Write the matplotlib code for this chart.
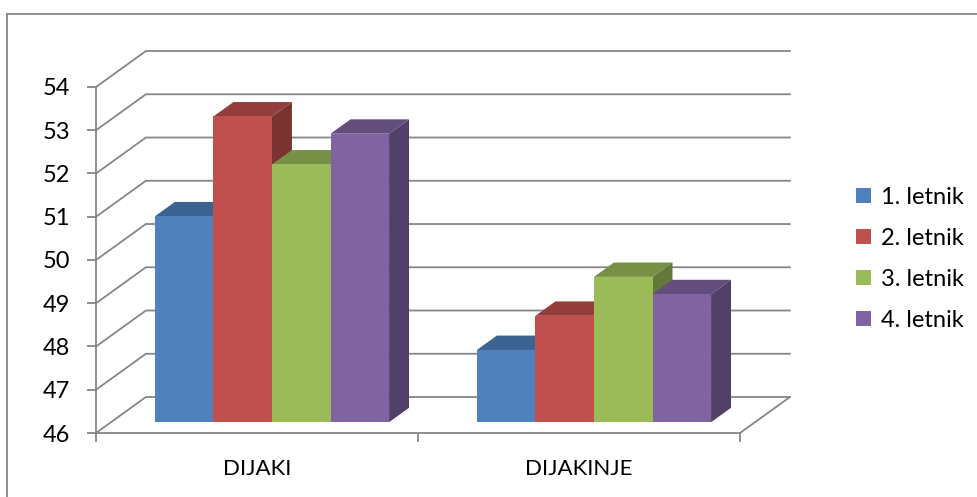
import matplotlib
matplotlib.use("Agg")
import matplotlib.pyplot as plt
from matplotlib.patches import Polygon, Patch
from matplotlib.lines import Line2D

# ---------------- data ----------------
categories = ["DIJAKI", "DIJAKINJE"]
series_names = ["1. letnik", "2. letnik", "3. letnik", "4. letnik"]
letnik_1 = [50.76, 47.67]
letnik_2 = [53.07, 48.46]
letnik_3 = [51.96, 49.36]
letnik_4 = [52.67, 48.96]
y_ticks = [46, 47, 48, 49, 50, 51, 52, 53, 54]

series_values = [letnik_1, letnik_2, letnik_3, letnik_4]

# ---------------- style ----------------
colors = ["#4F81BD", "#C0504D", "#9BBB59", "#8064A2"]
GRID = "#868686"
plt.rcParams["font.family"] = ["Lato", "DejaVu Sans"]
FS = 17

# oblique "3D" offset for full depth, in data units (x = categories, y = values)
DX, DY = 0.155, 0.832
F0, F1 = 0.3, 0.7          # bar depth range
N = len(series_names)
BAR_W = 1.0 / (N + 1.5)     # gap width 150 %
GAP = 0.75 * BAR_W


def shade(hex_color, k):
    r, g, b = matplotlib.colors.to_rgb(hex_color)
    return (r * k, g * k, b * k)


def proj(x, v, f):
    return (x + f * DX, v + f * DY)


fig = plt.figure(figsize=(9.78, 4.97), dpi=100)
ax = fig.add_axes([96 / 978, 64 / 497, 644 / 978, 346 / 497])
ax.set_xlim(0, len(categories))
ax.set_ylim(y_ticks[0], y_ticks[-1])

# outer chart frame (cut off at right and bottom)
fig.add_artist(Line2D([7 / 978, 7 / 978], [-0.1, 1 - 14 / 497], color=GRID, lw=1.3))
fig.add_artist(Line2D([7 / 978, 1.1], [1 - 14 / 497, 1 - 14 / 497], color=GRID, lw=1.3))

# wall gridlines (side wall diagonal + back wall)
xmax = len(categories)
for v in y_ticks:
    ax.plot([0, DX, xmax + DX], [v, v + DY, v + DY], color=GRID, lw=1.3,
            clip_on=False, zorder=1, solid_joinstyle="miter")
# floor right edge
ax.plot([xmax, xmax + DX], [y_ticks[0], y_ticks[0] + DY], color=GRID, lw=1.3,
        clip_on=False, zorder=1)

# bars
z = 2
base = y_ticks[0]
for c in range(len(categories)):
    for i in range(N):
        val = series_values[i][c]
        x0 = c + GAP + i * BAR_W
        x1 = x0 + BAR_W
        front = [proj(x0, base, F0), proj(x1, base, F0), proj(x1, val, F0), proj(x0, val, F0)]
        top = [proj(x0, val, F0), proj(x1, val, F0), proj(x1, val, F1), proj(x0, val, F1)]
        side = [proj(x1, base, F0), proj(x1, base, F1), proj(x1, val, F1), proj(x1, val, F0)]
        ax.add_patch(Polygon(side, closed=True, fc=shade(colors[i], 0.64), lw=0, zorder=z, clip_on=False))
        ax.add_patch(Polygon(top, closed=True, fc=shade(colors[i], 0.77), lw=0, zorder=z, clip_on=False))
        ax.add_patch(Polygon(front, closed=True, fc=colors[i], lw=0, zorder=z + 0.5, clip_on=False))
        z += 1

# axes look
for s in ["top", "right"]:
    ax.spines[s].set_visible(False)
for s in ["left", "bottom"]:
    ax.spines[s].set_color(GRID)
    ax.spines[s].set_linewidth(1.3)
    ax.spines[s].set_zorder(1)
ax.set_facecolor("none")

ax.set_yticks(y_ticks)
ax.set_yticklabels([str(t) for t in y_ticks], fontsize=FS)
ax.tick_params(axis="y", length=6.5, width=1.3, color=GRID, pad=12)

ax.set_xticks(range(len(categories) + 1))
ax.set_xticklabels([""] * (len(categories) + 1))
ax.set_xticks([c + 0.5 for c in range(len(categories))], minor=True)
ax.set_xticklabels(categories, minor=True, fontsize=FS - 1)
ax.tick_params(axis="x", which="major", length=6.5, width=1.3, color=GRID)
ax.tick_params(axis="x", which="minor", length=0, pad=19)

handles = [Patch(facecolor=colors[i], label=series_names[i]) for i in range(N)]
ax.legend(handles=handles, loc="center left", bbox_to_anchor=(856 / 978, 1 - 259 / 497),
          bbox_transform=fig.transFigure, frameon=False, fontsize=FS,
          handlelength=0.62, handleheight=0.62, handletextpad=0.45,
          labelspacing=0.85, borderpad=0, borderaxespad=0)

fig.savefig("out.png", dpi=100)
